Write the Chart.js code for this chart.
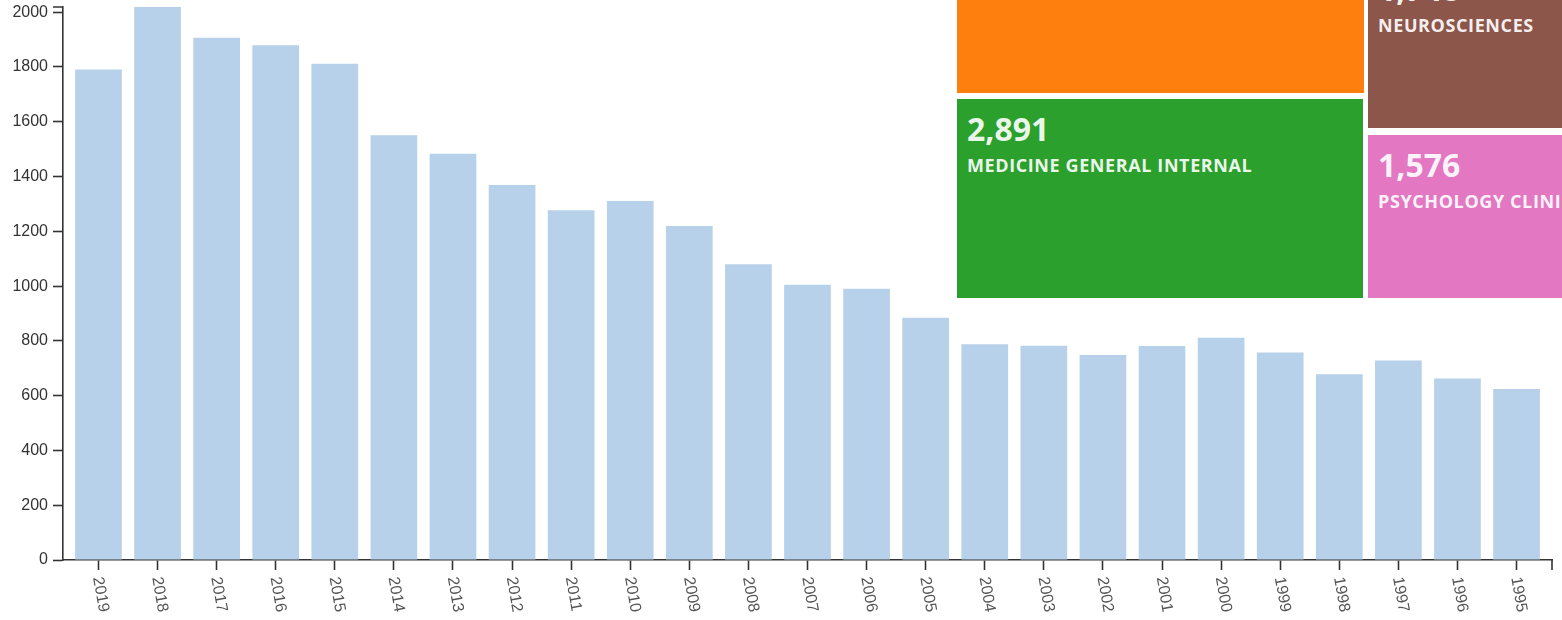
<!DOCTYPE html>
<html>
<head>
<meta charset="utf-8">
<script src="https://cdn.jsdelivr.net/npm/chart.js@4"></script>
<style>
  html, body { margin: 0; padding: 0; background: #fff; }
  #wrap { position: relative; width: 1562px; height: 620px; overflow: hidden; }
  #chart { position: absolute; left: 0; top: 0; }
  .cell { position: absolute; overflow: hidden; white-space: nowrap; color: rgba(255,255,255,0.93);
          font-family: 'Open Sans', sans-serif; font-weight: 700; }
  .cell .num { position: absolute; left: 10px; top: 14px; font-size: 32px; line-height: 32px; }
  .cell .name { position: absolute; left: 10px; top: 57px; font-size: 18px; line-height: 18px; letter-spacing: 0.6px; }
</style>
</head>
<body>
<div id="wrap">
  <canvas id="chart" width="1562" height="620"></canvas>
</div>
<script>
// publications per year (newest first)
const years = ['2019', '2018', '2017', '2016', '2015', '2014', '2013', '2012', '2011', '2010',
  '2009', '2008', '2007', '2006', '2005', '2004', '2003', '2002', '2001', '2000',
  '1999', '1998', '1997', '1996', '1995'];
const counts = [1791, 2019, 1907, 1879, 1812, 1551, 1483, 1369, 1277, 1311,
  1219, 1080, 1005, 990, 884, 788, 782, 748, 781, 811,
  758, 678, 728, 663, 624];
const yTicks = [0, 200, 400, 600, 800, 1000, 1200, 1400, 1600, 1800, 2000];

// treemap panel laid over the top right corner (only part of it is visible)
const fieldNames = ['', 'NEUROSCIENCES', 'MEDICINE GENERAL INTERNAL', 'PSYCHOLOGY CLINICAL'];
const fieldCounts = [null, 1748, 2891, 1576];
const fieldColors = ['#ff7f0e', '#8c564b', '#2ca02c', '#e377c2'];
// [left, top, width, height] of each cell in the page
const fieldBoxes = [[957, -120, 407, 213], [1368, -41, 200, 169], [957, 99, 406, 199], [1368, 135, 200, 163]];

const barColor = '#b6d1e9';
const axisColor = '#333';

Chart.defaults.font.family = '"Liberation Sans", Arial, sans-serif';

// d3 style: rotated year labels + outer end ticks
const axisExtras = {
  id: 'axisExtras',
  afterDraw(chart) {
    const ctx = chart.ctx;
    const x = chart.scales.x;
    const area = chart.chartArea;
    ctx.save();
    ctx.strokeStyle = axisColor;
    ctx.lineWidth = 1.6;
    ctx.beginPath();
    ctx.moveTo(area.right, area.bottom);
    ctx.lineTo(area.right, area.bottom + 10);
    ctx.moveTo(area.left, area.top);
    ctx.lineTo(area.left - 10, area.top);
    ctx.stroke();

    ctx.font = '16px "Liberation Sans", Arial, sans-serif';
    ctx.fillStyle = '#555';
    ctx.textAlign = 'left';
    ctx.textBaseline = 'middle';
    years.forEach((yr, i) => {
      const px = x.getPixelForValue(i);
      ctx.save();
      ctx.translate(px - 1, area.bottom + 17);
      ctx.rotate(80 * Math.PI / 180);
      ctx.fillText(yr, 0, 0);
      ctx.restore();
    });
    ctx.restore();
  }
};

new Chart(document.getElementById('chart'), {
  type: 'bar',
  data: {
    datasets: [{
      data: counts.map((v, i) => ({ x: i, y: v })),
      backgroundColor: barColor,
      barPercentage: 0.79,
      categoryPercentage: 1
    }]
  },
  options: {
    responsive: false,
    animation: false,
    devicePixelRatio: 1,
    layout: { padding: { top: 7, right: 10, left: 0, bottom: 0 } },
    plugins: { legend: { display: false }, tooltip: { enabled: false } },
    scales: {
      x: {
        type: 'linear',
        bounds: 'data',
        min: -0.6,
        max: years.length - 0.4,
        offset: false,
        afterBuildTicks: s => { s.ticks = years.map((_, i) => ({ value: i })); },
        afterFit: s => { s.height = 60; },
        ticks: { display: false },
        grid: { offset: false, drawOnChartArea: false, tickLength: 10, tickColor: axisColor, tickWidth: 1.6 },
        border: { color: axisColor, width: 1.6 }
      },
      y: {
        bounds: 'data',
        min: 0,
        max: Math.max(...counts),
        afterBuildTicks: s => { s.ticks = yTicks.map(v => ({ value: v })); },
        afterFit: s => { s.width = 63; s.paddingTop = 0; s.paddingBottom = 0; },
        ticks: { font: { size: 16 }, color: '#333', padding: 5, callback: v => String(v) },
        grid: { drawOnChartArea: false, tickLength: 10, tickColor: axisColor, tickWidth: 1.6 },
        border: { color: axisColor, width: 1.6 }
      }
    }
  },
  plugins: [axisExtras]
});

const wrap = document.getElementById('wrap');
fieldBoxes.forEach((b, i) => {
  const cell = document.createElement('div');
  cell.className = 'cell';
  cell.style.left = b[0] + 'px';
  cell.style.top = b[1] + 'px';
  cell.style.width = b[2] + 'px';
  cell.style.height = b[3] + 'px';
  cell.style.background = fieldColors[i];
  if (fieldCounts[i] !== null) {
    cell.innerHTML = '<div class="num">' + fieldCounts[i].toLocaleString('en-US') + '</div>' +
      '<div class="name">' + fieldNames[i] + '</div>';
  }
  wrap.appendChild(cell);
});
</script>
</body>
</html>
